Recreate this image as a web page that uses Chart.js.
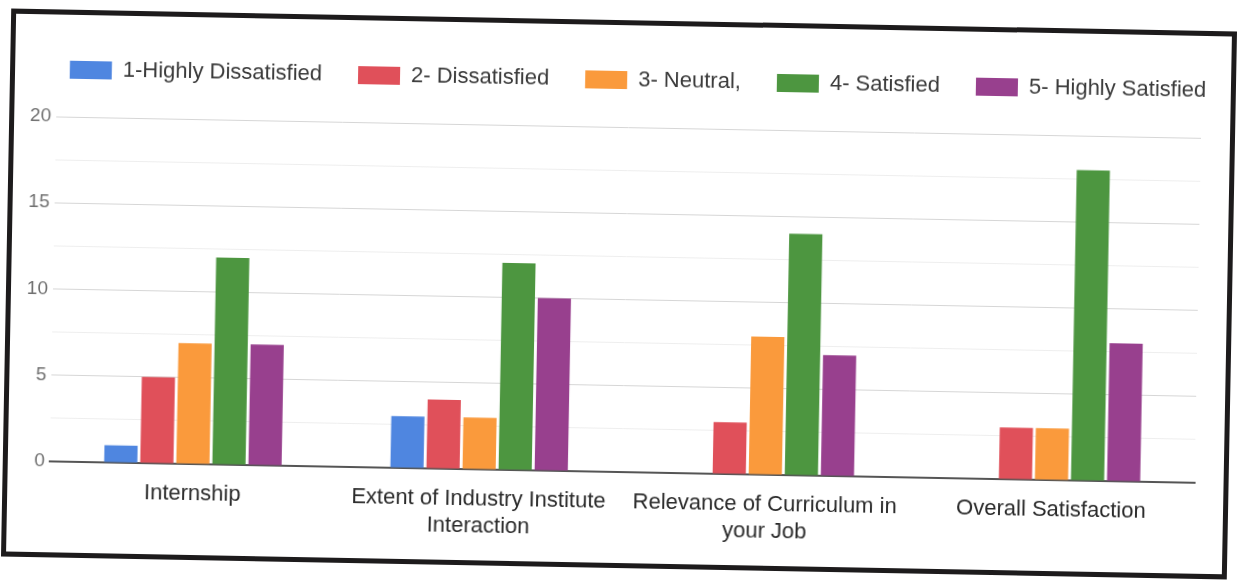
<head>
    <script src="https://cdn.jsdelivr.net/npm/chart.js"></script>
</head>
<style>
    body { margin: 0; background: #fff; width: 1244px; height: 580px; overflow: hidden; position: relative; }
    #frame {
        position: absolute; left: 6px; top: 20px; width: 1226px; height: 548px;
        box-sizing: border-box; border: 5px solid #1d1b1c; background: #fff;
        transform: rotate(1.07deg);
    }
    #frame canvas { display: block; }
</style>
<div id="frame">
    <canvas id="surveyChart" width="1216" height="538"></canvas>
</div>
<script>
    const categories = [
        'Internship',
        ['Extent of Industry Institute', 'Interaction'],
        ['Relevance of Curriculum in', 'your Job'],
        'Overall Satisfaction'
    ];
    const seriesNames = ['1-Highly Dissatisfied', '2- Dissatisfied', '3- Neutral,', '4- Satisfied', '5- Highly Satisfied'];
    const highlyDissatisfied = [1, 3, 0, 0];
    const dissatisfied = [5, 4, 3, 3];
    const neutral = [7, 3, 8, 3];
    const satisfied = [12, 12, 14, 18];
    const highlySatisfied = [7, 10, 7, 8];
    const yTicks = [0, 5, 10, 15, 20];

    const colors = ['#4f86e0', '#e0505a', '#fa9a3c', '#4d9640', '#98408e'];
    const values = [highlyDissatisfied, dissatisfied, neutral, satisfied, highlySatisfied];

    // keep the legend on one row, fixed height, a bit right of centre like the original
    const legendTweak = {
        id: 'legendTweak',
        beforeInit(chart) {
            const fit = chart.legend.fit;
            chart.legend.fit = function () {
                this.maxWidth = 1400;
                fit.bind(chart.legend)();
                this.height = 94;
            };
        },
        afterLayout(chart) {
            chart.legend.left += 18;
            chart.legend.right += 41;
        }
    };

    const ctx = document.getElementById('surveyChart').getContext('2d');
    new Chart(ctx, {
        type: 'bar',
        data: {
            labels: categories,
            datasets: seriesNames.map((name, i) => ({
                label: name,
                data: values[i],
                backgroundColor: colors[i],
                borderWidth: 0,
                categoryPercentage: 0.63,
                barPercentage: 0.92
            }))
        },
        options: {
            responsive: false,
            animation: false,
            layout: { padding: { left: 0, right: 29, top: 8, bottom: 0 } },
            plugins: {
                legend: {
                    position: 'top',
                    labels: {
                        boxWidth: 42,
                        boxHeight: 18,
                        padding: 36,
                        color: '#3a3a3a',
                        font: { family: 'Arial, "Liberation Sans", sans-serif', size: 22 }
                    }
                },
                tooltip: { enabled: false }
            },
            scales: {
                x: {
                    grid: { display: false },
                    border: { color: '#555', width: 2 },
                    ticks: {
                        padding: 8,
                        color: '#2a2a2a',
                        maxRotation: 0,
                        font: { family: 'Arial, "Liberation Sans", sans-serif', size: 22, lineHeight: 1.25 }
                    },
                    afterFit: (scale) => { scale.height = 91; }
                },
                y: {
                    min: 0,
                    max: 20,
                    border: { display: false },
                    grid: {
                        drawTicks: false,
                        color: (c) => c.tick.value === 0 ? 'rgba(0,0,0,0)' : (c.tick.value % 5 === 0 ? '#d6d6d6' : '#eeeeee')
                    },
                    ticks: {
                        stepSize: 2.5,
                        padding: 5,
                        color: '#707070',
                        font: { family: 'Arial, "Liberation Sans", sans-serif', size: 19 },
                        callback: (v) => yTicks.includes(v) ? v : ''
                    },
                    afterFit: (scale) => { scale.width = 42; }
                }
            }
        },
        plugins: [legendTweak]
    });
</script>
